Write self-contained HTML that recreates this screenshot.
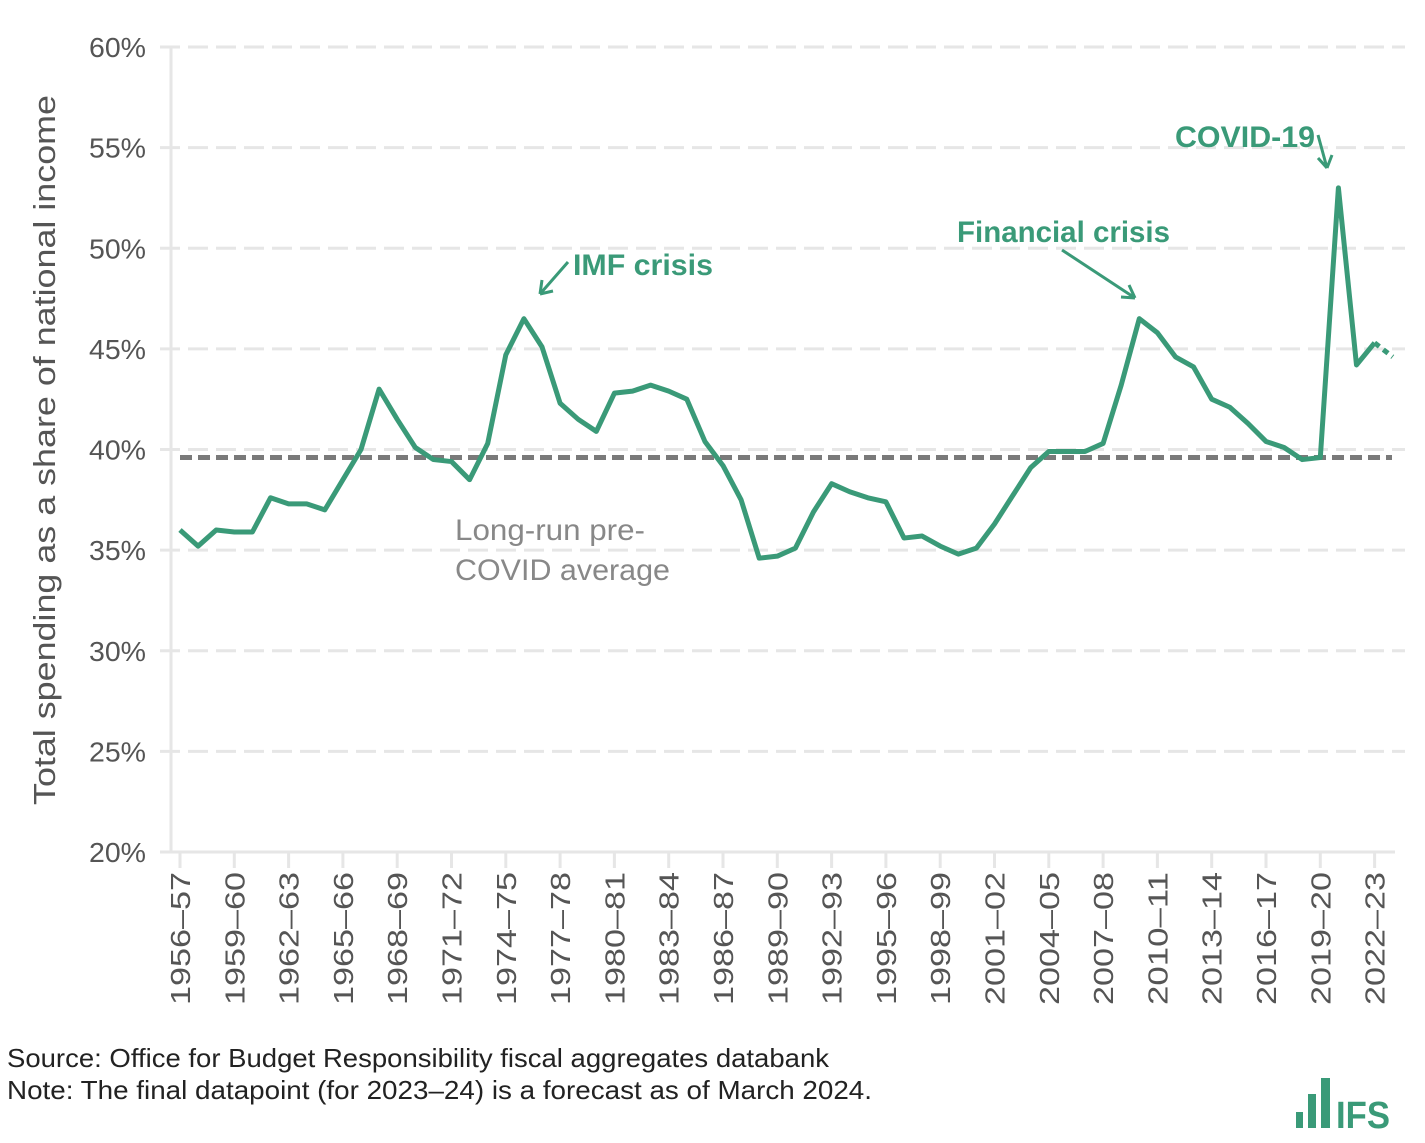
<!DOCTYPE html>
<html><head><meta charset="utf-8">
<style>
body{margin:0;background:#fff;width:1425px;height:1138px;overflow:hidden;font-family:"Liberation Sans",sans-serif;}
svg text{font-family:"Liberation Sans",sans-serif;}
</style></head>
<body>
<svg id="chart" width="1425" height="1138" xmlns="http://www.w3.org/2000/svg">
<g id="grid"></g>
<g id="yaxis"></g>
<g id="xaxis"></g>
<line id="avg" stroke="#7a7a7a" stroke-width="5" stroke-dasharray="12,6"/>
<path id="line" fill="none" stroke="#3a9a78" stroke-width="5" stroke-linejoin="round"/>
<path id="fcst" fill="none" stroke="#3a9a78" stroke-width="5" stroke-dasharray="6,5"/>
<text transform="translate(55,450) rotate(-90)" text-anchor="middle" font-size="31" fill="#555" textLength="710" lengthAdjust="spacingAndGlyphs">Total spending as a share of national income</text>
<text x="455" y="540" font-size="30" fill="#888" textLength="190" lengthAdjust="spacingAndGlyphs">Long-run pre-</text>
<text x="455" y="580" font-size="30" fill="#888" textLength="215" lengthAdjust="spacingAndGlyphs">COVID average</text>
<text x="573" y="275" font-size="30" font-weight="bold" fill="#3a9a78" textLength="140" lengthAdjust="spacingAndGlyphs">IMF crisis</text>
<path d="M568,262 L540,294 M540,294 L542,280 M540,294 L553,291" stroke="#3a9a78" stroke-width="3" fill="none"/>
<text x="957" y="242" font-size="30" font-weight="bold" fill="#3a9a78" textLength="213" lengthAdjust="spacingAndGlyphs">Financial crisis</text>
<path d="M1062,250 L1135,298 M1135,298 L1121,297 M1135,298 L1129,285" stroke="#3a9a78" stroke-width="3" fill="none"/>
<text x="1175" y="147" font-size="30" font-weight="bold" fill="#3a9a78" textLength="140" lengthAdjust="spacingAndGlyphs">COVID-19</text>
<path d="M1318,135 L1327,168 M1327,168 L1318,158 M1327,168 L1332,155" stroke="#3a9a78" stroke-width="3" fill="none"/>
<text x="7" y="1067" font-size="26" fill="#222" textLength="822" lengthAdjust="spacingAndGlyphs">Source: Office for Budget Responsibility fiscal aggregates databank</text>
<text x="7" y="1099" font-size="26" fill="#222" textLength="865" lengthAdjust="spacingAndGlyphs">Note: The final datapoint (for 2023–24) is a forecast as of March 2024.</text>
<g fill="#3a9a78">
<rect x="1296" y="1112" width="7" height="16"/>
<rect x="1308" y="1094" width="8" height="34"/>
<rect x="1321" y="1078" width="9" height="50"/>
<text x="1336" y="1128" font-size="38" font-weight="bold" textLength="54" lengthAdjust="spacingAndGlyphs">IFS</text>
</g>
</svg>
<script>
const years=[1956,1957,1958,1959,1960,1961,1962,1963,1964,1965,1966,1967,1968,1969,1970,1971,1972,1973,1974,1975,1976,1977,1978,1979,1980,1981,1982,1983,1984,1985,1986,1987,1988,1989,1990,1991,1992,1993,1994,1995,1996,1997,1998,1999,2000,2001,2002,2003,2004,2005,2006,2007,2008,2009,2010,2011,2012,2013,2014,2015,2016,2017,2018,2019,2020,2021,2022,2023];
const spending=[36.0,35.2,36.0,35.9,35.9,37.6,37.3,37.3,37.0,38.5,40.0,43.0,41.5,40.1,39.5,39.4,38.5,40.3,44.7,46.5,45.1,42.3,41.5,40.9,42.8,42.9,43.2,42.9,42.5,40.4,39.2,37.5,34.6,34.7,35.1,36.9,38.3,37.9,37.6,37.4,35.6,35.7,35.2,34.8,35.1,36.3,37.7,39.1,39.9,39.9,39.9,40.3,43.2,46.5,45.8,44.6,44.1,42.5,42.1,41.3,40.4,40.1,39.5,39.6,53.0,44.2,45.3,44.6];
const average=[39.6];
const yTicks=[20,25,30,35,40,45,50,55,60];
const NS="http://www.w3.org/2000/svg";
const xs=y=>180+(y-1956)*18.1;
const ys=v=>852-(v-20)*20.125;
function mk(t,a,p){const e=document.createElementNS(NS,t);for(const k in a)e.setAttribute(k,a[k]);p.appendChild(e);return e;}
const grid=document.getElementById('grid'),ya=document.getElementById('yaxis'),xa=document.getElementById('xaxis');
mk('line',{x1:171,x2:171,y1:47,y2:852,stroke:'#e6e6e6','stroke-width':3},grid);
yTicks.forEach(v=>{
  if(v>20){const l=mk('line',{x1:160,x2:1405,y1:ys(v),y2:ys(v),stroke:'#e6e6e6','stroke-width':3,'stroke-dasharray':'20,8'},grid);
  
  }
  const t=mk('text',{x:146,y:ys(v)+10,'text-anchor':'end','font-size':28,fill:'#555',textLength:57,lengthAdjust:'spacingAndGlyphs'},ya);
  
  
  t.textContent=v+'%';
});
const bl=mk('line',{x1:160,x2:1395,y1:852,y2:852,stroke:'#e6e6e6','stroke-width':3},xa);


years.forEach((y,i)=>{
  if(i%3!==0)return;
  const x=xs(y);
  const tk=mk('line',{x1:x,x2:x,y1:852,y2:868,stroke:'#e6e6e6','stroke-width':3},xa);
  
  
  const t=mk('text',{transform:`translate(${x+10},872) rotate(-90)`,'text-anchor':'end','font-size':28,fill:'#555',textLength:133,lengthAdjust:'spacingAndGlyphs'},xa);
  
  
  t.textContent=y+'–'+String((y+1)%100).padStart(2,'0');
});
const avg=document.getElementById('avg');
avg.setAttribute('x1',180);avg.setAttribute('x2',1392);
avg.setAttribute('y1',ys(average[0]));avg.setAttribute('y2',ys(average[0]));
const n=years.length;
let d='';for(let i=0;i<n-1;i++)d+=(i?'L':'M')+xs(years[i])+','+ys(spending[i]);
document.getElementById('line').setAttribute('d',d);
document.getElementById('fcst').setAttribute('d','M'+xs(years[n-2])+','+ys(spending[n-2])+'L'+xs(years[n-1])+','+ys(spending[n-1]));
</script>
</body></html>
